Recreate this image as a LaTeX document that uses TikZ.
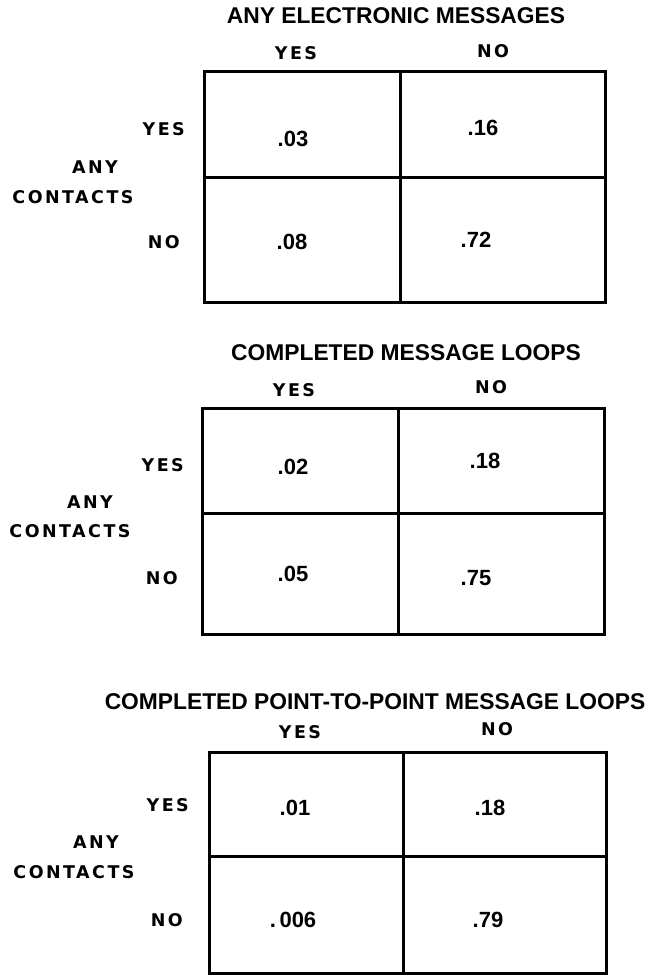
\documentclass[tikz,border=0pt]{standalone}
\usepackage{fontspec}
\setmainfont{Liberation Sans}
\newfontfamily\dotfont[LetterSpace=14]{DejaVu Sans}
\begin{document}
\begin{tikzpicture}[x=1pt,y=-1pt,
  gridline/.style={line width=3pt, line cap=rect},
  ttl/.style={font={\bfseries\fontsize{22.8}{26}\selectfont}, inner sep=0pt},
  lbl/.style={font={\dotfont\bfseries\fontsize{17.5}{20}\selectfont}, inner sep=0pt},
  val/.style={font={\bfseries\fontsize{22}{24}\selectfont}, inner sep=0pt}]
\useasboundingbox (0,0) rectangle (648,976);

% ---------- Table 1 ----------
\node[ttl] (t1title) at (396,16) {ANY ELECTRONIC MESSAGES};
\node[lbl] (t1cy) at (296,53) {YES};
\node[lbl] (t1cn) at (493,51) {NO};
\draw[gridline] (204,72) rectangle (605,302);
\draw[gridline] (400,72) -- (400,302);
\draw[gridline] (204,178) -- (605,178);
\node[lbl,anchor=east] (t1ry) at (185,129) {YES};
\node[lbl] (t1any) at (95,167) {ANY};
\node[lbl] (t1con) at (73,197) {CONTACTS};
\node[lbl,anchor=east] (t1rn) at (180,242) {NO};
\node[val] (t1a) at (293,139) {.03};
\node[val] (t1b) at (483,128) {.16};
\node[val] (t1c) at (292,242) {.08};
\node[val] (t1d) at (476,240) {.72};

% ---------- Table 2 ----------
\node[ttl] (t2title) at (406,353) {COMPLETED MESSAGE LOOPS};
\node[lbl] (t2cy) at (294,390) {YES};
\node[lbl] (t2cn) at (491,387) {NO};
\draw[gridline] (202,408) rectangle (604,634);
\draw[gridline] (398,408) -- (398,634);
\draw[gridline] (202,513) -- (604,513);
\node[lbl,anchor=east] (t2ry) at (184,465) {YES};
\node[lbl] (t2any) at (90,502) {ANY};
\node[lbl] (t2con) at (70,531) {CONTACTS};
\node[lbl,anchor=east] (t2rn) at (178,578) {NO};
\node[val] (t2a) at (293,467) {.02};
\node[val] (t2b) at (485,461) {.18};
\node[val] (t2c) at (293,574) {.05};
\node[val] (t2d) at (476,578) {.75};

% ---------- Table 3 ----------
\node[ttl] (t3title) at (375,702) {COMPLETED POINT-TO-POINT MESSAGE LOOPS};
\node[lbl] (t3cy) at (300,732) {YES};
\node[lbl] (t3cn) at (497,729) {NO};
\draw[gridline] (209,752) rectangle (606,973);
\draw[gridline] (403,752) -- (403,973);
\draw[gridline] (209,856) -- (606,856);
\node[lbl,anchor=east] (t3ry) at (189,805) {YES};
\node[lbl] (t3any) at (96,842) {ANY};
\node[lbl] (t3con) at (74,872) {CONTACTS};
\node[lbl,anchor=east] (t3rn) at (183,920) {NO};
\node[val] (t3a) at (295,808) {.01};
\node[val] (t3b) at (490,808) {.18};
\node[val] (t3c) at (293,920) {.\,006};
\node[val] (t3d) at (488,920) {.79};
\end{tikzpicture}
\end{document}
